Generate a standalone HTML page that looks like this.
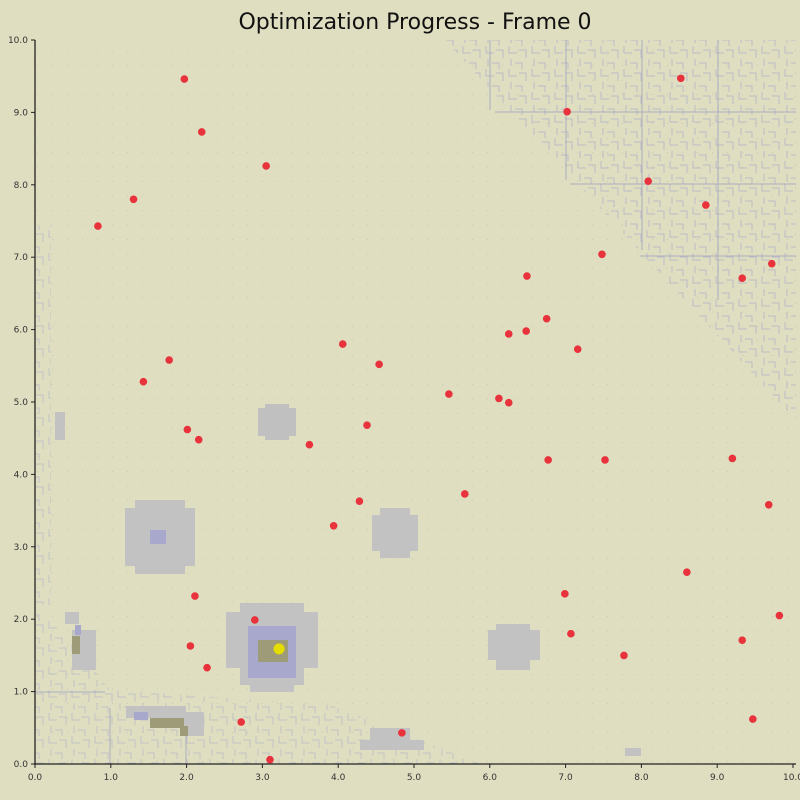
<!DOCTYPE html>
<html><head><meta charset="utf-8"><style>
body{margin:0;background:#dfdec1;}
svg{display:block;font-family:"DejaVu Sans","Liberation Sans",sans-serif;}
</style></head><body>
<svg id="chart" width="800" height="800" viewBox="0 0 800 800" xmlns="http://www.w3.org/2000/svg">
<defs>
<pattern id="maze" width="23" height="23" patternUnits="userSpaceOnUse">
<path d="M3 0v7h8M13 4h7v8M5 13v7M9 17h7v6" stroke="#bdbcc6" stroke-width="1" fill="none"/>
</pattern>
<pattern id="dots" width="15" height="14.5" patternUnits="userSpaceOnUse">
<rect x="7" y="7" width="1" height="1" fill="#cac9b0"/>
</pattern>
<clipPath id="plotclip"><rect x="35" y="40" width="761" height="724"/></clipPath>
</defs>
<rect width="800" height="800" fill="#dfdec1"/>
<text x="415" y="29" text-anchor="middle" font-size="22" fill="#111">Optimization Progress - Frame 0</text>
<g clip-path="url(#plotclip)">
<rect x="35" y="40" width="761" height="724" fill="url(#dots)"/>
<polygon points="445,40 800,40 800,425" fill="url(#maze)"/>
<polygon points="35,600 35,764 480,764 330,705 110,690" fill="url(#maze)" opacity="0.85"/>
<rect x="35" y="225" width="16" height="380" fill="url(#maze)" opacity="0.85"/>
<g stroke="#9a9ac0" stroke-width="1" opacity="0.7">
<line x1="495" y1="112" x2="800" y2="112"/><line x1="570" y1="184" x2="800" y2="184"/>
<line x1="640" y1="256" x2="800" y2="256"/><line x1="566" y1="40" x2="566" y2="180"/>
<line x1="642" y1="40" x2="642" y2="250"/><line x1="718" y1="40" x2="718" y2="300"/>
<line x1="490" y1="40" x2="490" y2="110"/><line x1="35" y1="692" x2="105" y2="692"/>
<line x1="110" y1="708" x2="110" y2="764"/><line x1="186" y1="730" x2="186" y2="764"/>
</g>
<g id="blobs"></g>
</g>
<g id="axes"></g>
<g id="points"></g>
</svg>
<script>
const xTicks=[0,1,2,3,4,5,6,7,8,9,10];
const yTicks=[0,1,2,3,4,5,6,7,8,9,10];
const ptX=[1.97,2.20,3.05,1.30,0.83,7.02,8.52,8.09,8.85,7.48,9.33,9.72,6.49,6.75,6.25,6.48,7.16,4.06,4.54,1.77,1.43,5.46,6.12,6.25,2.01,2.16,4.38,3.62,6.77,7.52,9.20,5.67,4.28,3.94,9.68,2.11,6.99,8.60,9.82,2.90,7.07,9.33,2.05,7.77,2.27,2.72,4.84,3.10,9.47];
const ptY=[9.46,8.73,8.26,7.80,7.43,9.01,9.47,8.05,7.72,7.04,6.71,6.91,6.74,6.15,5.94,5.98,5.73,5.80,5.52,5.58,5.28,5.11,5.05,4.99,4.62,4.48,4.68,4.41,4.20,4.20,4.22,3.73,3.63,3.29,3.58,2.32,2.35,2.65,2.05,1.99,1.80,1.71,1.63,1.50,1.33,0.58,0.43,0.06,0.62];
const bestX=[3.22];
const bestY=[1.59];
const NS="http://www.w3.org/2000/svg";
const sx=v=>35+v*75.8, sy=v=>764-v*72.4;
function mk(t,a,p){const e=document.createElementNS(NS,t);for(const k in a)e.setAttribute(k,a[k]);p.appendChild(e);return e;}
const ax=document.getElementById('axes');
mk('line',{x1:35,y1:40,x2:35,y2:765,stroke:'#222','stroke-width':1.3},ax);
mk('line',{x1:34,y1:764,x2:796,y2:764,stroke:'#222','stroke-width':1.3},ax);
xTicks.forEach(v=>{mk('line',{x1:sx(v),y1:764,x2:sx(v),y2:768,stroke:'#222'},ax);
const t=mk('text',{x:sx(v),y:780,'text-anchor':'middle','font-size':9,fill:'#333'},ax);t.textContent=v.toFixed(1);

});
yTicks.forEach(v=>{mk('line',{x1:31,y1:sy(v),x2:35,y2:sy(v),stroke:'#222'},ax);
const t=mk('text',{x:28,y:sy(v)+3,'text-anchor':'end','font-size':9,fill:'#333'},ax);t.textContent=v.toFixed(1);

});
const bl=document.getElementById('blobs');
function blob(r,fill){mk('rect',{x:r[0],y:r[1],width:r[2],height:r[3],fill:fill},bl);}
[[258,408,38,28],[265,404,24,36]].forEach(r=>blob(r,'#c0c0c0'));
[[125,508,70,58],[135,500,50,74],[372,515,46,36],[380,508,30,50],[488,630,52,30],[496,624,34,46],[226,612,92,56],[240,603,64,82],[250,604,44,88],[360,740,64,10],[370,728,40,22],[126,706,60,12],[150,712,54,12],[184,724,20,12],[65,612,14,12],[72,630,24,40],[55,412,10,28],[625,748,16,8]].forEach(r=>blob(r,'#c2c2c2'));
[[248,626,48,52],[150,530,16,14],[134,712,14,8],[75,625,6,10]].forEach(r=>blob(r,'#a8a8cc'));
[[258,640,30,22],[150,718,34,10],[72,636,8,18],[180,726,8,10]].forEach(r=>blob(r,'#9e9c78'));
const pg=document.getElementById('points');
ptX.forEach((x,i)=>{const c=mk('circle',{cx:sx(x),cy:sy(ptY[i]),r:3.8,fill:'#e8323c'},pg);

});
bestX.forEach((x,i)=>{const c=mk('circle',{cx:sx(x),cy:sy(bestY[i]),r:5.5,fill:'#e6dd00'},pg);

});
</script>
</body></html>
